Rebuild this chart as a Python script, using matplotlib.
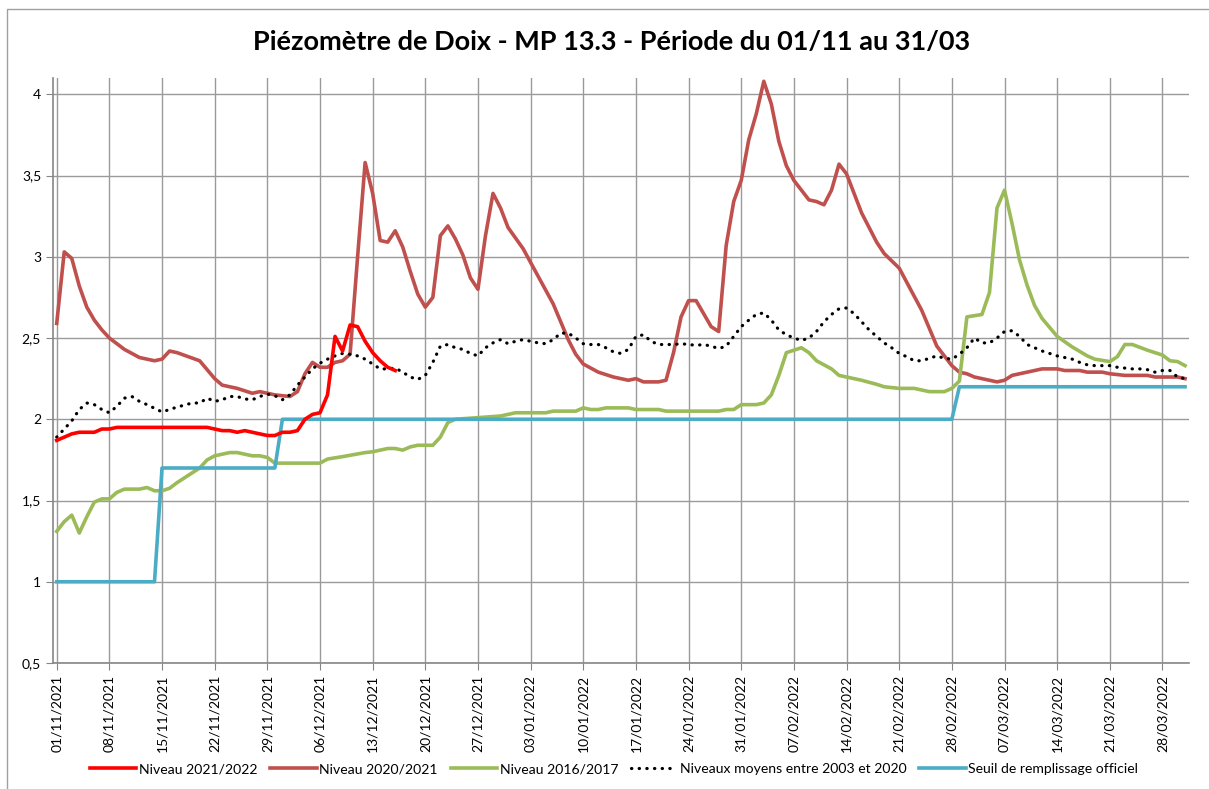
import datetime as dt
import matplotlib
matplotlib.use("Agg")
import matplotlib.pyplot as plt
from matplotlib.patches import Rectangle

plt.rcParams['font.family'] = ['Lato', 'DejaVu Sans']

start = dt.datetime(2021, 11, 1)

# Niveau 2021/2022 (day offset from 01/11, level)
d_2122 = [0, 2, 3, 5, 6, 7, 8, 20, 21, 22, 23, 24, 25, 27, 28, 29, 30, 31, 32, 33,
          34, 35, 36, 37, 38, 39, 40, 41, 42, 43, 44, 45]
v_2122 = [1.87, 1.91, 1.92, 1.92, 1.94, 1.94, 1.95, 1.95, 1.94, 1.93, 1.93, 1.92, 1.93,
          1.91, 1.90, 1.90, 1.92, 1.92, 1.93, 2.00, 2.03, 2.04, 2.15, 2.51, 2.42, 2.58,
          2.57, 2.48, 2.41, 2.36, 2.32, 2.30]

# Niveau 2020/2021
d_2021 = [0, 1, 2, 3, 4, 5, 6, 7, 9, 11, 13, 14, 15, 16, 19, 21, 22, 24, 26, 27, 29, 31,
          32, 33, 34, 35, 36, 37, 38, 39, 40, 41, 42, 43, 44, 45, 46, 47, 48, 49, 50, 51,
          52, 53, 54, 55, 56, 57, 58, 59, 60, 62, 64, 66, 68, 69, 70, 72, 74, 76, 77, 78,
          80, 81, 82, 83, 84, 85, 87, 88, 89, 90, 91, 92, 93, 94, 95, 96, 97, 98, 100,
          101, 102, 103, 104, 105, 107, 109, 110, 112, 115, 117, 119, 120, 121, 122, 125,
          126, 127, 129, 131, 133, 134, 136, 137, 139, 140, 142, 145, 146, 149, 150]
v_2021 = [2.59, 3.03, 2.99, 2.82, 2.69, 2.61, 2.55, 2.50, 2.43, 2.38, 2.36, 2.37, 2.42,
          2.41, 2.36, 2.25, 2.21, 2.19, 2.16, 2.17, 2.15, 2.14, 2.17, 2.28, 2.35, 2.32,
          2.32, 2.35, 2.36, 2.40, 3.00, 3.58, 3.39, 3.10, 3.09, 3.16, 3.06, 2.91, 2.77,
          2.69, 2.75, 3.13, 3.19, 3.11, 3.01, 2.87, 2.80, 3.13, 3.39, 3.30, 3.18, 3.05,
          2.88, 2.71, 2.49, 2.40, 2.34, 2.29, 2.26, 2.24, 2.25, 2.23, 2.23, 2.24, 2.41,
          2.63, 2.73, 2.73, 2.57, 2.54, 3.07, 3.34, 3.47, 3.72, 3.88, 4.08, 3.94, 3.71,
          3.56, 3.47, 3.35, 3.34, 3.32, 3.41, 3.57, 3.51, 3.27, 3.09, 3.02, 2.93, 2.67,
          2.45, 2.33, 2.29, 2.28, 2.26, 2.23, 2.24, 2.27, 2.29, 2.31, 2.31, 2.30, 2.30,
          2.29, 2.29, 2.28, 2.27, 2.27, 2.26, 2.26, 2.25]

# Niveau 2016/2017
d_1617 = [0, 1, 2, 3, 4, 5, 6, 7, 8, 9, 11, 12, 13, 14, 15, 16, 18, 19, 20, 21, 23, 24,
          26, 27, 28, 29, 35, 36, 38, 41, 42, 44, 45, 46, 47, 48, 50, 51, 52, 53, 56, 59,
          61, 65, 66, 69, 70, 71, 72, 73, 76, 77, 80, 81, 88, 89, 90, 91, 93, 94, 95, 96,
          97, 99, 100, 101, 103, 104, 105, 107, 109, 110, 112, 114, 116, 118, 119, 120,
          121, 123, 124, 125, 126, 127, 128, 129, 130, 131, 133, 135, 137, 138, 140, 141,
          142, 143, 145, 147, 148, 149, 150]
v_1617 = [1.31, 1.37, 1.41, 1.30, 1.40, 1.49, 1.51, 1.51, 1.55, 1.57, 1.57, 1.58, 1.56,
          1.56, 1.575, 1.61, 1.67, 1.70, 1.75, 1.775, 1.795, 1.795, 1.775, 1.775, 1.765,
          1.73, 1.73, 1.755, 1.77, 1.795, 1.80, 1.82, 1.82, 1.81, 1.83, 1.84, 1.84, 1.89,
          1.98, 2.00, 2.01, 2.02, 2.04, 2.04, 2.05, 2.05, 2.07, 2.06, 2.06, 2.07, 2.07,
          2.06, 2.06, 2.05, 2.05, 2.06, 2.06, 2.09, 2.09, 2.10, 2.15, 2.27, 2.41, 2.44,
          2.41, 2.36, 2.31, 2.27, 2.26, 2.24, 2.215, 2.20, 2.19, 2.19, 2.17, 2.17, 2.19,
          2.235, 2.63, 2.645, 2.78, 3.30, 3.41, 3.205, 2.98, 2.825, 2.70, 2.62, 2.51,
          2.445, 2.39, 2.37, 2.355, 2.385, 2.46, 2.46, 2.425, 2.395, 2.36, 2.355, 2.33]

# Niveaux moyens entre 2003 et 2020
d_moy = [0, 1, 2, 3, 4, 5, 6, 7, 8, 9, 10, 11, 12, 14, 15, 16, 18, 19, 20, 21, 22, 23,
         24, 25, 26, 27, 28, 29, 30, 31, 32, 33, 34, 35, 36, 37, 38, 39, 40, 41, 42, 43,
         44, 45, 46, 47, 48, 49, 50, 51, 52, 53, 54, 55, 56, 57, 58, 59, 60, 61, 62, 63,
         64, 65, 66, 67, 68, 69, 70, 71, 72, 73, 74, 75, 76, 77, 78, 79, 80, 81, 82, 83,
         84, 85, 86, 87, 88, 89, 90, 91, 92, 93, 94, 95, 96, 97, 98, 99, 100, 101, 102,
         103, 104, 105, 106, 107, 108, 109, 110, 111, 112, 113, 114, 115, 116, 117, 118,
         119, 120, 121, 122, 123, 124, 125, 126, 127, 128, 129, 130, 131, 132, 133, 134,
         135, 136, 137, 138, 140, 141, 142, 143, 144, 145, 146, 147, 148, 149, 150]
v_moy = [1.89, 1.94, 1.99, 2.06, 2.10, 2.09, 2.06, 2.04, 2.08, 2.13, 2.14, 2.11, 2.09,
         2.045, 2.06, 2.075, 2.10, 2.10, 2.13, 2.11, 2.12, 2.14, 2.14, 2.125, 2.12, 2.14,
         2.155, 2.145, 2.12, 2.15, 2.21, 2.26, 2.31, 2.345, 2.37, 2.39, 2.405, 2.40, 2.39,
         2.37, 2.34, 2.31, 2.31, 2.315, 2.29, 2.26, 2.245, 2.27, 2.35, 2.45, 2.46, 2.44,
         2.43, 2.405, 2.39, 2.44, 2.47, 2.49, 2.465, 2.48, 2.49, 2.48, 2.47, 2.465, 2.49,
         2.53, 2.53, 2.50, 2.465, 2.46, 2.46, 2.44, 2.415, 2.405, 2.43, 2.51, 2.52, 2.48,
         2.46, 2.46, 2.46, 2.465, 2.46, 2.455, 2.46, 2.45, 2.435, 2.45, 2.51, 2.57, 2.61,
         2.645, 2.655, 2.61, 2.55, 2.52, 2.50, 2.485, 2.50, 2.54, 2.60, 2.645, 2.68, 2.685,
         2.65, 2.60, 2.55, 2.51, 2.47, 2.44, 2.405, 2.385, 2.36, 2.36, 2.375, 2.39, 2.375,
         2.37, 2.40, 2.44, 2.50, 2.47, 2.47, 2.50, 2.54, 2.545, 2.51, 2.46, 2.44, 2.42,
         2.405, 2.39, 2.38, 2.37, 2.35, 2.335, 2.33, 2.33, 2.32, 2.315, 2.31, 2.31, 2.305,
         2.29, 2.30, 2.30, 2.26, 2.25]

# Seuil de remplissage officiel
d_seuil = [0, 13, 14, 29, 30, 119, 120, 150]
v_seuil = [1.0, 1.0, 1.7, 1.7, 2.0, 2.0, 2.2, 2.2]

tick_labels_fmt = "%d/%m/%Y"


def to_dates(days):
    return [start + dt.timedelta(days=d) for d in days]


fig = plt.figure(figsize=(12.09, 7.89), dpi=100)
ax = fig.add_axes([0.0438, 0.1597, 0.9395, 0.7414])

# outer chart border
fig.patches.append(Rectangle((7 / 1209, -0.05), 1.1, 1.05 - 9 / 789,
                             transform=fig.transFigure, fill=False,
                             edgecolor='#a0a0a0', linewidth=1.0))

ax.plot(to_dates(d_2122), v_2122, color='#ff0000', lw=2.6, label='Niveau 2021/2022', zorder=5)
ax.plot(to_dates(d_2021), v_2021, color='#c0504d', lw=2.6, label='Niveau 2020/2021', zorder=3)
ax.plot(to_dates(d_1617), v_1617, color='#9bbb59', lw=2.6, label='Niveau 2016/2017', zorder=3)
ax.plot(to_dates(d_moy), v_moy, color='black', lw=2.3, linestyle=(0, (0.1, 2.3)),
        dash_capstyle='round', label='Niveaux moyens entre 2003 et 2020', zorder=4)
ax.plot(to_dates(d_seuil), v_seuil, color='#4bacc6', lw=2.6,
        label='Seuil de remplissage officiel', zorder=3)

ax.set_xlim(start - dt.timedelta(hours=12), start + dt.timedelta(days=150, hours=12))
ax.set_ylim(0.5, 4.1)

ticks = [start + dt.timedelta(days=7 * i) for i in range(22)]
ax.set_xticks(ticks)
ax.set_xticklabels([t.strftime(tick_labels_fmt) for t in ticks], rotation=90, fontsize=10)

yt = [0.5, 1, 1.5, 2, 2.5, 3, 3.5, 4]
ax.set_yticks(yt)
ax.set_yticklabels([('%g' % v).replace('.', ',') for v in yt], fontsize=10)

ax.grid(True, color='#9a9a9a', linewidth=1.0)
ax.set_axisbelow(True)
for s in ['top', 'right']:
    ax.spines[s].set_visible(False)
for s in ['left', 'bottom']:
    ax.spines[s].set_color('#868686')
    ax.spines[s].set_linewidth(1.2)
ax.tick_params(axis='both', colors='#868686', length=5, labelcolor='black')

fig.text(0.506, 0.947, "Piézomètre de Doix - MP 13.3 - Période du 01/11 au 31/03",
         fontsize=19.5, fontweight='bold', ha='center', va='center')

fig.legend(loc='center', bbox_to_anchor=(0.508, 0.025), ncol=5, frameon=False,
           fontsize=10.1, handlelength=3.3, columnspacing=0.9, handletextpad=0.2)

fig.savefig("out.png", dpi=100)
